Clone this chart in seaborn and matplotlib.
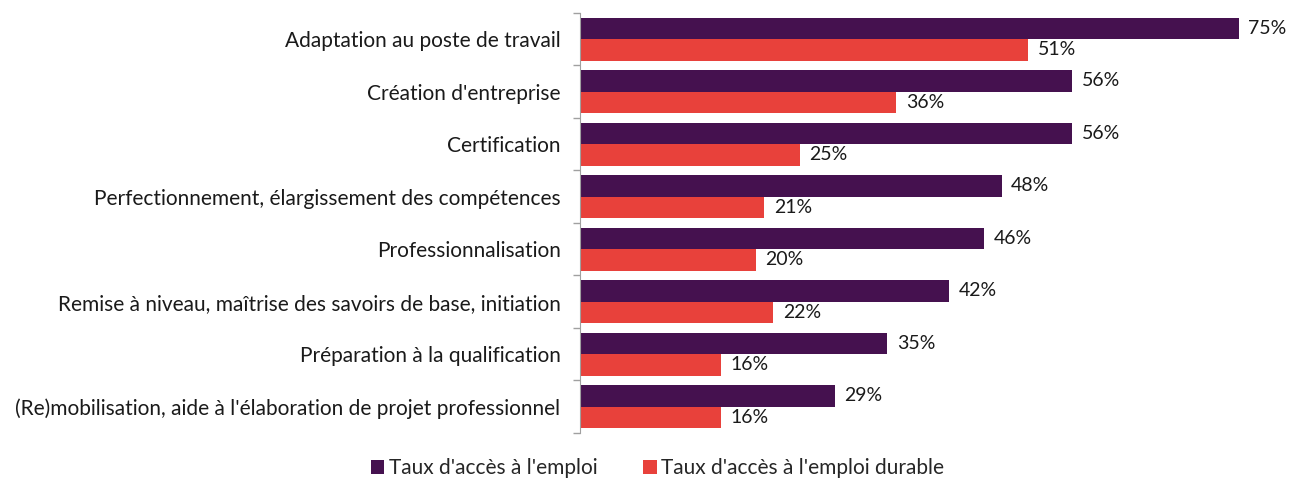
import pandas as pd
import numpy as np
import matplotlib.pyplot as plt
import seaborn as sns
from matplotlib.patches import Patch

categories = [
    "Adaptation au poste de travail",
    "Création d'entreprise",
    "Certification",
    "Perfectionnement, élargissement des compétences",
    "Professionnalisation",
    "Remise à niveau, maîtrise des savoirs de base, initiation",
    "Préparation à la qualification",
    "(Re)mobilisation, aide à l'élaboration de projet professionnel",
]
taux_emploi = [75, 56, 56, 48, 46, 42, 35, 29]
taux_durable = [51, 36, 25, 21, 20, 22, 16, 16]
series = ["Taux d'accès à l'emploi", "Taux d'accès à l'emploi durable"]
colors = ["#45114F", "#E8413B"]

df = pd.DataFrame({
    "categorie": categories * 2,
    "valeur": taux_emploi + taux_durable,
    "serie": [series[0]] * len(categories) + [series[1]] * len(categories),
})

sns.set_style("white")
plt.rcParams['font.family'] = ['Lato', 'DejaVu Sans']

fig = plt.figure(figsize=(12.89, 4.8), dpi=100)
ax = fig.add_axes([0.45, 0.098, 0.545, 0.875])

sns.barplot(data=df, y="categorie", x="valeur", hue="serie", orient="h",
            palette=colors, width=0.82, gap=0, ax=ax, legend=False,
            saturation=1, linewidth=0)

for cont in ax.containers:
    ax.bar_label(cont, labels=[f"{v:.0f}%" for v in cont.datavalues],
                 padding=7, fontsize=14, color="#1a1a1a")

ax.set_xlim(0, 80)
ax.set_ylim(len(categories) - 0.5, -0.5)
ax.set_xlabel("")
ax.set_ylabel("")
ax.set_xticks([])
ax.tick_params(axis="y", which="major", left=False, length=0, pad=14,
               labelsize=15, labelcolor="#1a1a1a")
ax.set_yticks(np.arange(-0.5, len(categories)), minor=True)
ax.tick_params(axis="y", which="minor", left=True, length=5,
               color="#A0A0A0", width=1)
for s in ["top", "right", "bottom"]:
    ax.spines[s].set_visible(False)
ax.spines["left"].set_color("#A0A0A0")

handles = [Patch(facecolor=c, edgecolor="none") for c in colors]
fig.legend(handles, series, loc="lower center", bbox_to_anchor=(0.51, -0.035),
           ncol=2, frameon=False, fontsize=15, handlelength=0.65,
           handleheight=0.65, handletextpad=0.2, columnspacing=2.2)

fig.savefig("out.png", dpi=100)
